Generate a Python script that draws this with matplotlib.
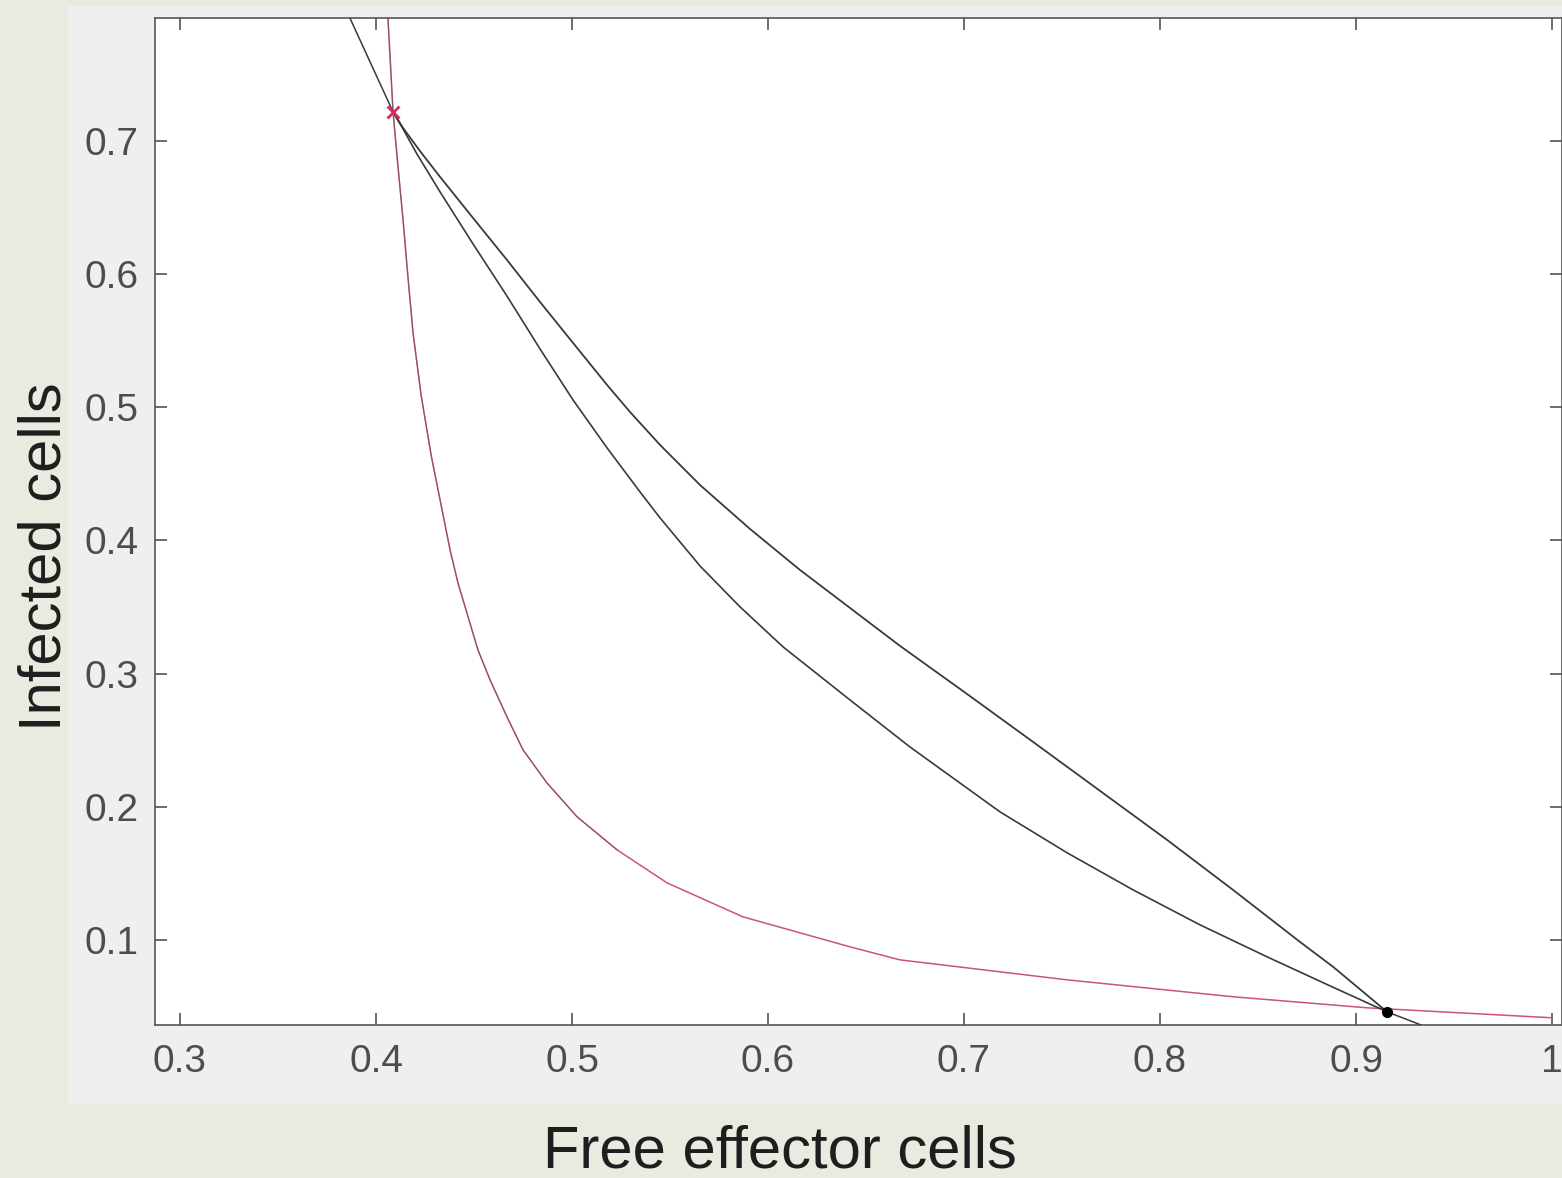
import matplotlib.pyplot as plt
import matplotlib.patches as mpatches

# outer trajectory, saddle -> node
outer_x = [0.4087, 0.4138, 0.4224, 0.4327, 0.4495, 0.4668, 0.4837, 0.5026,
           0.5179, 0.5296, 0.5449, 0.5653, 0.5908, 0.6163, 0.6418, 0.6673,
           0.7015, 0.7352, 0.7694, 0.8036, 0.8372, 0.8714, 0.8883, 0.9158]
outer_y = [0.7218, 0.7098, 0.6925, 0.6730, 0.6422, 0.6107, 0.5791, 0.5446,
           0.5168, 0.4965, 0.4718, 0.4417, 0.4087, 0.3779, 0.3494, 0.3209,
           0.2848, 0.2488, 0.2120, 0.1752, 0.1377, 0.0986, 0.0799, 0.0461]

# inner trajectory, saddle -> node
inner_x = [0.4087, 0.4138, 0.4209, 0.4327, 0.4495, 0.4668, 0.4837, 0.5005,
           0.5179, 0.5347, 0.5449, 0.5653, 0.5857, 0.6077, 0.6418, 0.6724,
           0.7184, 0.7526, 0.7862, 0.8204, 0.8546, 0.8867, 0.9158]
inner_y = [0.7218, 0.7090, 0.6902, 0.6617, 0.6227, 0.5836, 0.5438, 0.5056,
           0.4695, 0.4365, 0.4170, 0.3809, 0.3502, 0.3201, 0.2803, 0.2450,
           0.1962, 0.1655, 0.1377, 0.1114, 0.0874, 0.0656, 0.0461]

# red curve
red_x = [0.4061, 0.4087, 0.4112, 0.4138, 0.4163, 0.4189, 0.4230, 0.4281,
         0.4378, 0.4418, 0.4520, 0.4582, 0.4668, 0.4750, 0.4872, 0.5026,
         0.5230, 0.5485, 0.5872, 0.6418, 0.6673, 0.7526, 0.8372, 0.9056, 1.0]
red_y = [0.7923, 0.7218, 0.6812, 0.6407, 0.5979, 0.5559, 0.5093, 0.4643,
         0.3929, 0.3682, 0.3179, 0.2953, 0.2676, 0.2428, 0.2180, 0.1925,
         0.1677, 0.1429, 0.1174, 0.0949, 0.0851, 0.0701, 0.0574, 0.0491, 0.0416]

# straight pieces entering the saddle and leaving the node
top_line_x = [0.3867, 0.4087]
top_line_y = [0.7923, 0.7218]
tail_x = [0.9158, 0.9332]
tail_y = [0.0461, 0.0362]

saddle = (0.4087, 0.7218)
node = (0.9158, 0.0461)

xticks = [0.3, 0.4, 0.5, 0.6, 0.7, 0.8, 0.9, 1.0]
xtick_labels = ["0.3", "0.4", "0.5", "0.6", "0.7", "0.8", "0.9", "1"]
yticks = [0.1, 0.2, 0.3, 0.4, 0.5, 0.6, 0.7]

W, H = 1562, 1178
fig = plt.figure(figsize=(W / 100, H / 100), dpi=100)
fig.patch.set_facecolor("#ebeae0")

# grey panel behind the axes
panel = mpatches.Rectangle((68 / W, 1 - 1104 / H), 1 - 68 / W, (1104 - 6) / H,
                           transform=fig.transFigure, facecolor="#efefef",
                           edgecolor="none", zorder=-10)
fig.patches.append(panel)

left, right = 155 / W, 1.0
bottom, top = 1 - 1025 / H, 1 - 18 / H
ax = fig.add_axes([left, bottom, right - left, top - bottom])
ax.set_facecolor("white")
ax.set_zorder(1)

curve_col = "#3a3a3a"
red_col = "#cc5474"
line_kw = dict(solid_joinstyle="round", solid_capstyle="round")

ax.plot(red_x, red_y, color=red_col, lw=1.1, zorder=2, **line_kw)
# the steep part reads greyish in the original (black drawn over red)
ax.plot(red_x[:17], red_y[:17], color="#555555", lw=0.8, alpha=0.55,
        zorder=2, **line_kw)
ax.plot(outer_x, outer_y, color=curve_col, lw=1.3, zorder=3, **line_kw)
ax.plot(inner_x, inner_y, color=curve_col, lw=1.2, zorder=3, **line_kw)
ax.plot(top_line_x, top_line_y, color=curve_col, lw=1.1, zorder=3, **line_kw)
ax.plot(tail_x, tail_y, color=curve_col, lw=1.1, zorder=3, **line_kw)

ax.plot(*saddle, marker="x", color="#d0305a", ms=9, mew=2, zorder=4)
ax.plot(*node, marker="o", color="black", ms=7, zorder=4)

ax.set_xlim(0.3 - 25 / 1960, 1.0 + 10 / 1960)
ax.set_ylim(0.1 - 85 / 1332, 0.7 + 123 / 1332)

ax.set_xticks(xticks)
ax.set_xticklabels(xtick_labels)
ax.set_yticks(yticks)
ax.tick_params(direction="in", length=8.5, width=1.1, color="#444444",
               labelsize=28, labelcolor="#4d4d4d", top=True, right=True,
               labelfontfamily="Liberation Sans")
ax.tick_params(axis="x", pad=14)
ax.tick_params(axis="y", pad=12)
for s in ax.spines.values():
    s.set_color("#555555")
    s.set_linewidth(1.2)

fig.text(780 / W, 1 - 1152 / H, "Free effector cells", fontsize=43,
         family="Liberation Sans", color="#1e1e1e", ha="center", va="center")
fig.text(45 / W, 1 - 557 / H, "Infected cells", fontsize=43,
         family="Liberation Sans", color="#1e1e1e", ha="center", va="center",
         rotation=90)

fig.savefig("out.png", dpi=100, facecolor=fig.get_facecolor())
